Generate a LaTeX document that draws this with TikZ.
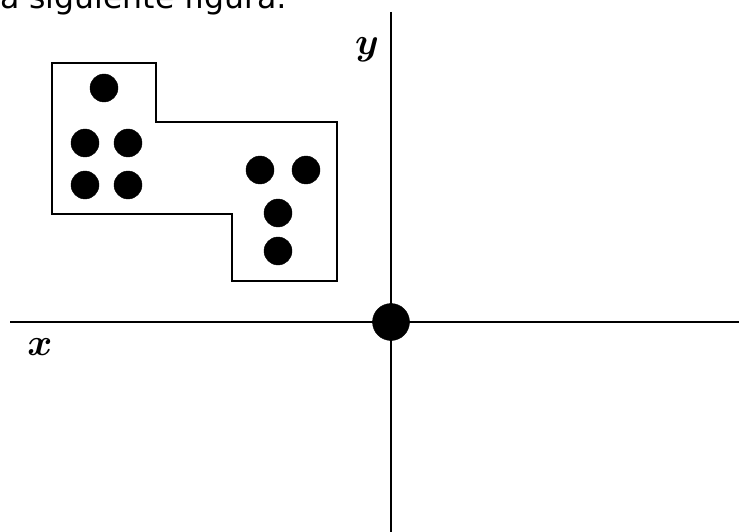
\documentclass[tikz,border=0pt]{standalone}
\usepackage{fontspec}
\newfontfamily\captionfont{DejaVu Sans}
\begin{document}
\begin{tikzpicture}[
  x = 1pt, y = -1pt,
  dot/.style = {draw,fill,circle,inner sep=0pt,minimum size=28pt},
  origin/.style = {draw,fill,circle,inner sep=0pt,minimum size=37pt},
  axis/.style = {line width=2.8pt},
  region/.style = {line width=1.5pt},
  axislabel/.style = {inner sep=0pt,font=\boldmath}
  ]
  \useasboundingbox (0,0) rectangle (739,532);
  \clip (0,0) rectangle (739,532);
  \node[anchor=base west,inner sep=0pt,font=\captionfont\fontsize{31.5}{36}\selectfont] (caption) at (0,9) {a siguiente figura:};
  % axes
  \coordinate (xl) at (10,322);
  \coordinate (xr) at (739,322);
  \coordinate (yt) at (391,12);
  \coordinate (yb) at (391,532);
  \draw[axis] (xl) -- (xr);
  \draw[axis] (yt) -- (yb);
  \node[origin] (O) at (391,322) {};
  \node[axislabel,anchor=base] (xlab) at (40,355) {\scalebox{3.8}{$x$}};
  \node[axislabel,anchor=base] (ylab) at (367,55) {\scalebox{3.8}{$y$}};
  % region
  \draw[region] (52,63) -- (156,63) -- (156,122) -- (337,122) -- (337,281)
    -- (232,281) -- (232,214) -- (52,214) -- cycle;
  \node[dot] (a1) at (104,88) {};
  \node[dot] (a2) at (85,143) {};
  \node[dot] (a3) at (128,143) {};
  \node[dot] (a4) at (85,185) {};
  \node[dot] (a5) at (128,185) {};
  \node[dot] (b1) at (260,170) {};
  \node[dot] (b2) at (306,170) {};
  \node[dot] (b3) at (278,213) {};
  \node[dot] (b4) at (278,251) {};
\end{tikzpicture}
\end{document}
